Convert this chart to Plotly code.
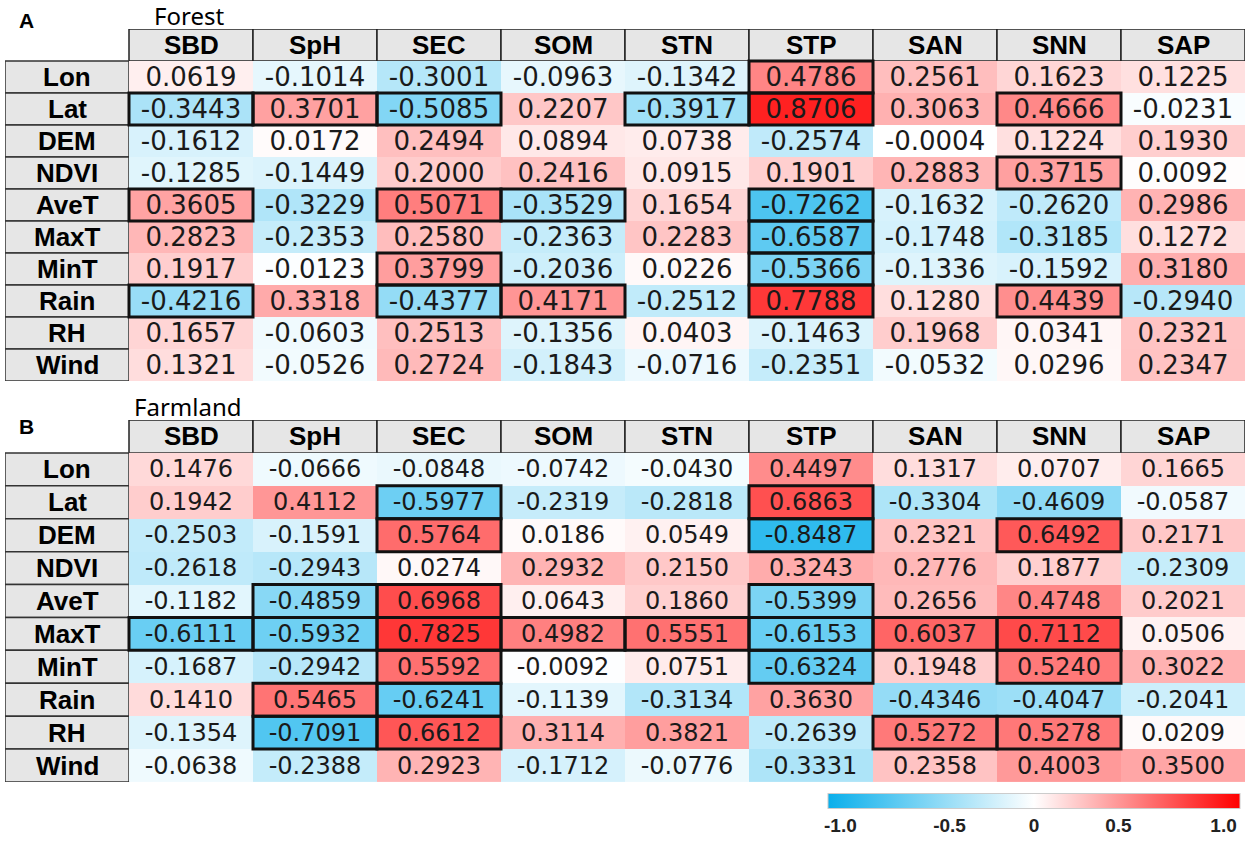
import plotly.graph_objects as go

# soil properties (columns) and environmental factors (rows)
soil = ['SBD', 'SpH', 'SEC', 'SOM', 'STN', 'STP', 'SAN', 'SNN', 'SAP']
factors = ['Lon', 'Lat', 'DEM', 'NDVI', 'AveT', 'MaxT', 'MinT', 'Rain', 'RH', 'Wind']

forest = [
    [0.0619, -0.1014, -0.3001, -0.0963, -0.1342, 0.4786, 0.2561, 0.1623, 0.1225],
    [-0.3443, 0.3701, -0.5085, 0.2207, -0.3917, 0.8706, 0.3063, 0.4666, -0.0231],
    [-0.1612, 0.0172, 0.2494, 0.0894, 0.0738, -0.2574, -0.0004, 0.1224, 0.1930],
    [-0.1285, -0.1449, 0.2000, 0.2416, 0.0915, 0.1901, 0.2883, 0.3715, 0.0092],
    [0.3605, -0.3229, 0.5071, -0.3529, 0.1654, -0.7262, -0.1632, -0.2620, 0.2986],
    [0.2823, -0.2353, 0.2580, -0.2363, 0.2283, -0.6587, -0.1748, -0.3185, 0.1272],
    [0.1917, -0.0123, 0.3799, -0.2036, 0.0226, -0.5366, -0.1336, -0.1592, 0.3180],
    [-0.4216, 0.3318, -0.4377, 0.4171, -0.2512, 0.7788, 0.1280, 0.4439, -0.2940],
    [0.1657, -0.0603, 0.2513, -0.1356, 0.0403, -0.1463, 0.1968, 0.0341, 0.2321],
    [0.1321, -0.0526, 0.2724, -0.1843, -0.0716, -0.2351, -0.0532, 0.0296, 0.2347],
]

farmland = [
    [0.1476, -0.0666, -0.0848, -0.0742, -0.0430, 0.4497, 0.1317, 0.0707, 0.1665],
    [0.1942, 0.4112, -0.5977, -0.2319, -0.2818, 0.6863, -0.3304, -0.4609, -0.0587],
    [-0.2503, -0.1591, 0.5764, 0.0186, 0.0549, -0.8487, 0.2321, 0.6492, 0.2171],
    [-0.2618, -0.2943, 0.0274, 0.2932, 0.2150, 0.3243, 0.2776, 0.1877, -0.2309],
    [-0.1182, -0.4859, 0.6968, 0.0643, 0.1860, -0.5399, 0.2656, 0.4748, 0.2021],
    [-0.6111, -0.5932, 0.7825, 0.4982, 0.5551, -0.6153, 0.6037, 0.7112, 0.0506],
    [-0.1687, -0.2942, 0.5592, -0.0092, 0.0751, -0.6324, 0.1948, 0.5240, 0.3022],
    [0.1410, 0.5465, -0.6241, -0.1139, -0.3134, 0.3630, -0.4346, -0.4047, -0.2041],
    [-0.1354, -0.7091, 0.6612, 0.3114, 0.3821, -0.2639, 0.5272, 0.5278, 0.0209],
    [-0.0638, -0.2388, 0.2923, -0.1712, -0.0776, -0.3331, 0.2358, 0.4003, 0.3500],
]

# cells framed in bold (significant correlations)
forest_sig = [('Lon', 'STP'),
              ('Lat', 'SBD'), ('Lat', 'SpH'), ('Lat', 'SEC'), ('Lat', 'STN'), ('Lat', 'STP'), ('Lat', 'SNN'),
              ('NDVI', 'SNN'),
              ('AveT', 'SBD'), ('AveT', 'SEC'), ('AveT', 'SOM'), ('AveT', 'STP'),
              ('MaxT', 'STP'),
              ('MinT', 'SEC'), ('MinT', 'STP'),
              ('Rain', 'SBD'), ('Rain', 'SEC'), ('Rain', 'SOM'), ('Rain', 'STP'), ('Rain', 'SNN')]
farmland_sig = [('Lat', 'SEC'), ('Lat', 'STP'),
                ('DEM', 'SEC'), ('DEM', 'STP'), ('DEM', 'SNN'),
                ('AveT', 'SpH'), ('AveT', 'SEC'), ('AveT', 'STP'),
                ('MaxT', 'SBD'), ('MaxT', 'SpH'), ('MaxT', 'SEC'), ('MaxT', 'SOM'),
                ('MaxT', 'STN'), ('MaxT', 'STP'), ('MaxT', 'SAN'), ('MaxT', 'SNN'),
                ('MinT', 'SEC'), ('MinT', 'STP'), ('MinT', 'SNN'),
                ('Rain', 'SpH'), ('Rain', 'SEC'),
                ('RH', 'SpH'), ('RH', 'SEC'), ('RH', 'SAN'), ('RH', 'SNN')]

# legend labels; like the original legend the end labels sit inside the bar
cbar_text = ['-1.0', '-0.5', '0', '0.5', '1.0']
cbar_pos = [-0.94, -0.41, 0, 0.41, 0.92]

colorscale = [[0, '#0aafeb'], [0.5, '#ffffff'], [1, '#ff0000']]
HEAD_FONT = 'Liberation Sans, Arial, sans-serif'

fig = go.Figure()
shapes = []
annotations = []

panels = [
    (forest, forest_sig, 'x', 'y', 26, True),
    (farmland, farmland_sig, 'x2', 'y2', 24, False),
]

for z, sig, xr, yr, numsize, showbar in panels:
    texts = [['%.4f' % v for v in row] for row in z]
    fig.add_trace(go.Heatmap(
        z=z, x=list(range(len(soil))), y=list(range(len(factors))),
        text=texts, texttemplate='%{text}',
        textfont=dict(family='DejaVu Sans', size=numsize, color='#1a1a1a'),
        colorscale=colorscale, zmin=-1, zmax=1,
        xaxis=xr, yaxis=yr, hoverinfo='skip',
        showscale=showbar,
        colorbar=dict(orientation='h', x=1034 / 1248, xanchor='center', y=1 - 812 / 850,
                      yanchor='middle', len=412 / 1248, lenmode='fraction', xpad=0, ypad=0,
                      thickness=15, outlinecolor='#cccccc', outlinewidth=1,
                      tickvals=cbar_pos, ticktext=['<b>%s</b>' % t for t in cbar_text],
                      ticks='', ticklabeloverflow='allow',
                      tickfont=dict(family=HEAD_FONT, size=19, color='#222222'))
    ))
    # header cells
    for i, name in enumerate(soil):
        shapes.append(dict(type='rect', xref=xr, yref=yr,
                           x0=i - 0.5, x1=i + 0.5, y0=-1.5, y1=-0.5,
                           fillcolor='#e6e6e6', line=dict(color='#222222', width=1.5),
                           layer='below'))
        annotations.append(dict(xref=xr, yref=yr, x=i, y=-1, text='<b>%s</b>' % name,
                                showarrow=False,
                                font=dict(family=HEAD_FONT, size=26, color='black')))
    # row label cells
    for j, name in enumerate(factors):
        shapes.append(dict(type='rect', xref=xr, yref=yr,
                           x0=-1.5, x1=-0.5, y0=j - 0.5, y1=j + 0.5,
                           fillcolor='#e6e6e6', line=dict(color='#333333', width=1.5),
                           layer='below'))
        annotations.append(dict(xref=xr, yref=yr, x=-1, y=j, text='<b>%s</b>' % name,
                                showarrow=False,
                                font=dict(family=HEAD_FONT, size=26, color='black')))
    # bold frames on significant cells
    for fac, s in sig:
        i = soil.index(s)
        j = factors.index(fac)
        shapes.append(dict(type='rect', xref=xr, yref=yr,
                           x0=i - 0.5, x1=i + 0.5, y0=j - 0.5, y1=j + 0.5,
                           line=dict(color='#111111', width=3)))

# panel titles and letters
for txt, x, y in [('Forest', 152 / 1248, 1 - 16 / 850), ('Farmland', 132 / 1248, 1 - 406 / 850)]:
    annotations.append(dict(xref='paper', yref='paper', x=x, y=y, text=txt,
                            showarrow=False, xanchor='left', yanchor='middle',
                            font=dict(family='Noto Sans', size=24, color='black')))
for txt, y in [('A', 1 - 20 / 850), ('B', 1 - 426 / 850)]:
    annotations.append(dict(xref='paper', yref='paper', x=26 / 1248, y=y, text='<b>%s</b>' % txt,
                            showarrow=False, xanchor='center', yanchor='middle',
                            font=dict(family=HEAD_FONT, size=21, color='black')))

axis_x = dict(range=[-1.5, 8.5], domain=[5 / 1248, 1245 / 1248], showgrid=False,
              zeroline=False, showticklabels=False, fixedrange=True)

fig.update_layout(
    width=1248, height=850,
    margin=dict(l=0, r=0, t=0, b=0),
    paper_bgcolor='white', plot_bgcolor='white',
    xaxis=axis_x,
    xaxis2=dict(axis_x, anchor='y2'),
    yaxis=dict(range=[9.5, -1.5], domain=[1 - 381 / 850, 1 - 29 / 850],
               showgrid=False, zeroline=False, showticklabels=False),
    yaxis2=dict(range=[9.5, -1.5], domain=[1 - 782 / 850, 1 - 420 / 850],
                showgrid=False, zeroline=False, showticklabels=False, anchor='x2'),
    shapes=shapes,
    annotations=annotations,
)

# drop the default page margin so the figure sits at the window's corner
fig.write_html('out.html', config={'displayModeBar': False},
               post_script="document.body.style.margin='0';")
